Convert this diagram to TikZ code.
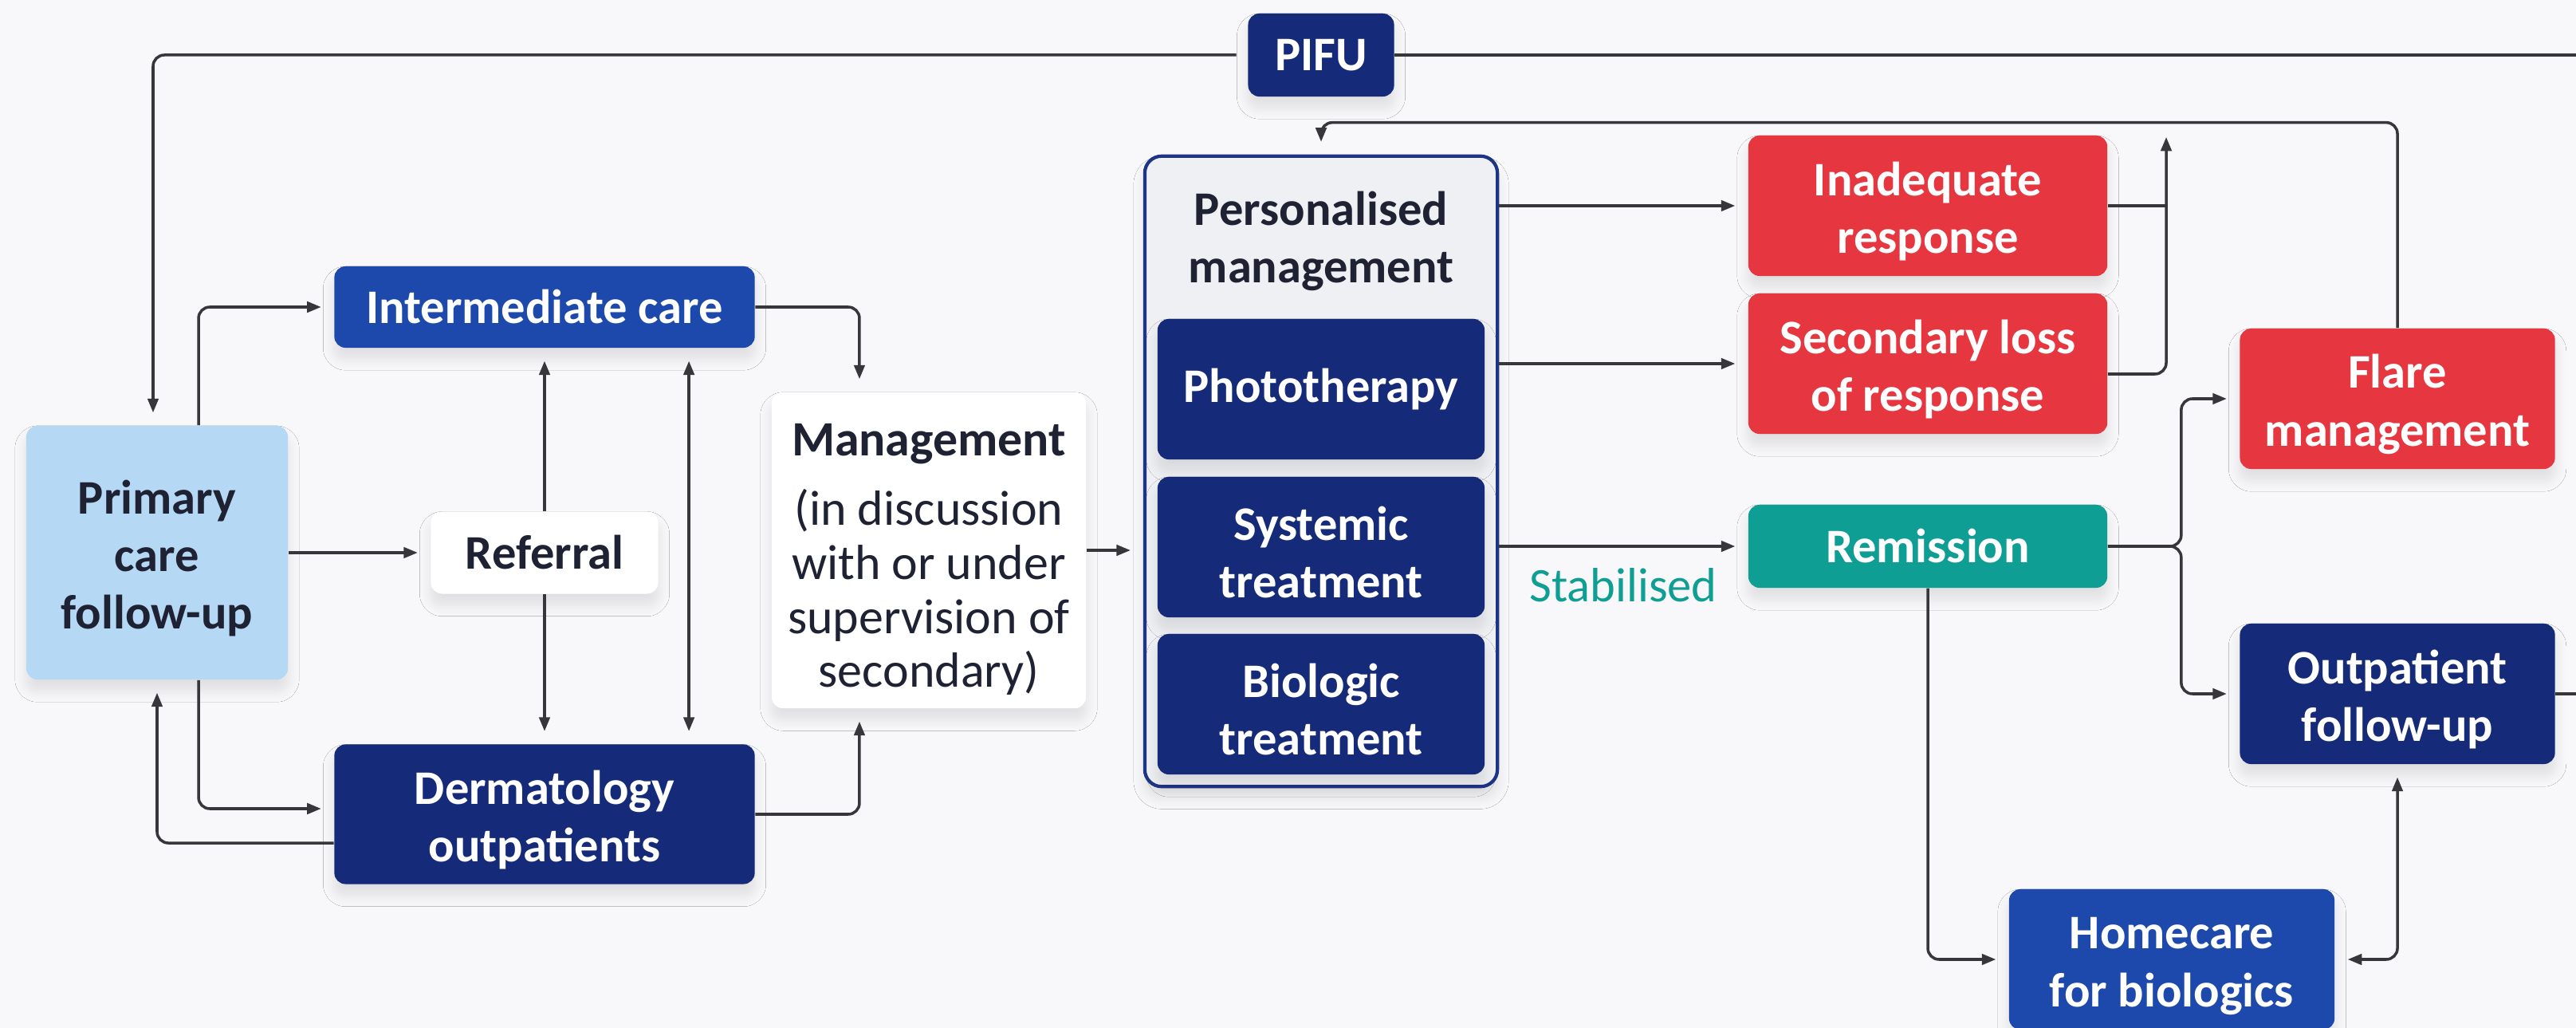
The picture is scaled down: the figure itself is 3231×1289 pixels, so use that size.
\documentclass[tikz,border=0pt]{standalone}
\usepackage{fontspec}
\setmainfont{Carlito}
\usetikzlibrary{arrows.meta,shadows.blur}
\definecolor{navy}{HTML}{152A78}
\definecolor{midblue}{HTML}{1C49AB}
\definecolor{paleblue}{HTML}{B5D8F5}
\definecolor{alertred}{HTML}{E6363F}
\definecolor{remgreen}{HTML}{0F9E93}
\definecolor{ink}{HTML}{1F2233}
\definecolor{wire}{HTML}{36363B}
\definecolor{pmfill}{HTML}{EFF0F4}
\definecolor{pmline}{HTML}{1E3585}
\definecolor{bgc}{HTML}{F8F8FB}
% taller first line, so that two-line labels sit a little lower
\newcommand{\tlift}[1][16pt]{\rule{0pt}{#1}}
\begin{document}
\begin{tikzpicture}[x=0.01cm,y=-0.01cm,
    soft/.style={blur shadow={shadow xshift=0pt,shadow yshift=-4pt,shadow opacity=10,
        shadow blur radius=4pt,shadow blur steps=6}},
    box/.style={rounded corners=4pt,align=center,inner sep=0pt,text=white,
      font=\bfseries\fontsize{17.2}{20.5}\selectfont,soft},
    navybox/.style={box,fill=navy},
    bluebox/.style={box,fill=midblue},
    redbox/.style={box,fill=alertred},
    greenbox/.style={box,fill=remgreen},
    whitebox/.style={box,fill=white,text=ink},
    conn/.style={draw=wire,line width=1pt,rounded corners=4pt},
    arr/.style={conn,-{Triangle[length=5pt,width=3.8pt]},shorten >=4.5pt},
    arrs/.style={conn,{Triangle[length=5pt,width=3.8pt]}-{Triangle[length=5pt,width=3.8pt]},
      shorten >=4.5pt,shorten <=4.5pt}]
    \clip (0,0) rectangle (3231,1289);
    \fill[bgc] (0,0) rectangle (3231,1289);
    \coordinate (edge) at (3231,0);
    \coordinate (jn) at (2717,156);
    % left part: primary and secondary care
    \node (pifu) at (1657,69) [navybox,minimum width=1.83cm,minimum height=1.04cm] {PIFU};
    \node (inter) at (683,385) [bluebox,minimum width=5.27cm,minimum height=1.02cm] {Intermediate care};
    \node (prim) at (197,693) [box,fill=paleblue,text=ink,minimum width=3.28cm,minimum height=3.18cm] {\tlift Primary\\care\\follow-up};
    \node (refer) at (683,693) [whitebox,minimum width=2.85cm,minimum height=1.03cm] {Referral};
    \node (derm) at (683,1021) [navybox,minimum width=5.27cm,minimum height=1.75cm] {\tlift Dermatology\\outpatients};
    \node (mgmt) at (1165,690) [whitebox,minimum width=3.94cm,minimum height=3.96cm,
      font=\fontsize{17.6}{19.3}\selectfont] {\tlift[18pt]{\bfseries Management}\\[5.4pt](in discussion\\with or under\\supervision of\\secondary)};
    % personalised management block
    \node (pers) at (1657,591) [draw=pmline,line width=1.2pt,fill=pmfill,rounded corners=6pt,
      minimum width=4.42cm,minimum height=7.9cm,soft] {};
    \node (perstitle) at (1657,298) [align=center,text=ink,font=\bfseries\fontsize{17.2}{20.5}\selectfont] {\tlift[14.5pt]Personalised\\management};
    \node (photo) at (1657,488) [navybox,minimum width=4.1cm,minimum height=1.76cm] {Phototherapy};
    \node (syst) at (1657,686) [navybox,minimum width=4.1cm,minimum height=1.76cm] {\tlift Systemic\\treatment};
    \node (bio) at (1657,883) [navybox,minimum width=4.1cm,minimum height=1.76cm] {\tlift Biologic\\treatment};
    % outcomes
    \node (inad) at (2418,258) [redbox,minimum width=4.5cm,minimum height=1.76cm] {\tlift Inadequate\\response};
    \node (secl) at (2418,456) [redbox,minimum width=4.5cm,minimum height=1.76cm] {\tlift Secondary loss\\of response};
    \node (remi) at (2418,685) [greenbox,minimum width=4.5cm,minimum height=1.04cm] {Remission};
    \node (flare) at (3007,500) [redbox,minimum width=3.95cm,minimum height=1.76cm] {\tlift Flare\\management};
    \node (outp) at (3007,870) [navybox,minimum width=3.95cm,minimum height=1.76cm] {\tlift Outpatient\\follow-up};
    \node (home) at (2724,1203) [bluebox,minimum width=4.08cm,minimum height=1.76cm] {\tlift Homecare\\for biologics};

    % connectors
    \draw[arr,shorten <=4pt] (pifu.west) -| ([xshift=-0.05cm]prim.north);
    \draw[conn] (pifu.east) -- (pifu.east -| edge);
    \draw[arr] ([xshift=0.52cm]prim.north) |- (inter.west);
    \draw[arr] ([xshift=0.52cm]prim.south) |- ([yshift=0.07cm]derm.west);
    \draw[arr] ([yshift=-0.36cm]derm.west) -| (prim.south);
    \draw[arr] (prim.east) -- (refer.west);
    \draw[arr] (refer.north) -- (inter.south);
    \draw[arr] (refer.south) -- (derm.north);
    \draw[arrs] ([xshift=1.81cm]inter.south) -- ([xshift=1.81cm]derm.north);
    \draw[arr] (inter.east) -| ([xshift=-0.87cm]mgmt.north);
    \draw[arr] (derm.east) -| ([xshift=-0.87cm]mgmt.south);
    \draw[arr] (mgmt.east) -- (mgmt.east -| pers.west);
    \draw[arr] (pers.east |- inad.west) -- (inad.west);
    \draw[arr] (pers.east |- secl.west) -- (secl.west);
    \draw[arr] (pers.east |- remi.west) -- (remi.west)
      node (stab) [midway,below=4pt,text=remgreen,font=\fontsize{17.2}{20.5}\selectfont] {Stabilised};
    \draw[conn] (inad.east) -- (inad.east -| jn);
    \draw[arr] ([yshift=-0.13cm]secl.east) -| (jn);
    \draw[arr] (flare.north) |- ([yshift=0.4cm]pers.north) -- (pers.north);
    \draw[arr] (remi.east) -- ++(92,0) |- (flare.west);
    \draw[arr] (remi.east) -- ++(92,0) |- (outp.west);
    \draw[arr] (remi.south) |- (home.west);
    \draw[arrs] (outp.south) |- (home.east);
    \draw[conn] (outp.east) -- (outp.east -| edge);
\end{tikzpicture}
\end{document}
